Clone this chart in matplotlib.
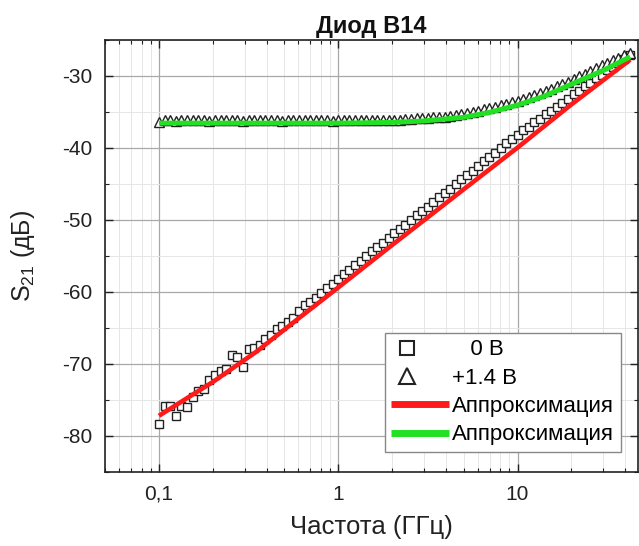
import matplotlib
matplotlib.use("Agg")
import matplotlib.pyplot as plt
from matplotlib.legend_handler import HandlerLine2D
from matplotlib.ticker import FixedLocator, FuncFormatter, LogLocator, MultipleLocator, NullFormatter

plt.rcParams['font.family'] = ['Liberation Sans', 'DejaVu Sans']
plt.rcParams['mathtext.default'] = 'regular'
plt.rcParams['axes.unicode_minus'] = False

# Measurement frequencies, GHz
freq = [
    0.1000, 0.1075, 0.1155, 0.1241, 0.1334, 0.1433, 0.1540, 0.1655,
    0.1778, 0.1911, 0.2054, 0.2207, 0.2371, 0.2548, 0.2738, 0.2943,
    0.3162, 0.3398, 0.3652, 0.3924, 0.4217, 0.4532, 0.4870, 0.5233,
    0.5623, 0.6043, 0.6494, 0.6978, 0.7499, 0.8058, 0.8660, 0.9306,
    1.000, 1.075, 1.155, 1.241, 1.334, 1.433, 1.540, 1.655,
    1.778, 1.911, 2.054, 2.207, 2.371, 2.548, 2.738, 2.943,
    3.162, 3.398, 3.652, 3.924, 4.217, 4.532, 4.870, 5.233,
    5.623, 6.043, 6.494, 6.978, 7.499, 8.058, 8.660, 9.306,
    10.00, 10.75, 11.55, 12.41, 13.34, 14.33, 15.40, 16.55,
    17.78, 19.11, 20.54, 22.07, 23.71, 25.48, 27.38, 29.43,
    31.62, 33.98, 36.52, 39.24, 42.17,
]

# S21 at 0 V bias, dB
s21_0v = [
    -78.4, -75.9, -75.8, -77.3, -75.9, -76.0, -74.6, -73.8,
    -73.5, -72.3, -71.6, -71.0, -70.7, -68.8, -69.1, -70.5,
    -68.0, -67.8, -67.4, -66.6, -66.0, -65.2, -64.8, -64.2,
    -63.6, -62.6, -61.9, -61.4, -60.8, -60.1, -59.5, -58.9,
    -58.2, -57.6, -57.0, -56.3, -55.7, -55.1, -54.4, -53.8,
    -53.2, -52.6, -51.9, -51.3, -50.7, -50.0, -49.4, -48.8,
    -48.2, -47.6, -46.9, -46.3, -45.7, -45.0, -44.4, -43.8,
    -43.2, -42.5, -41.9, -41.3, -40.7, -40.0, -39.4, -38.8,
    -38.2, -37.6, -37.1, -36.5, -36.0, -35.4, -34.9, -34.3,
    -33.8, -33.2, -32.6, -32.1, -31.5, -31.0, -30.4, -29.9,
    -29.3, -28.8, -28.2, -27.7, -27.1,
]

# S21 at +1.4 V bias, dB
s21_14v = [
    -36.4, -36.2, -36.2, -36.3, -36.2, -36.2, -36.1, -36.2,
    -36.2, -36.3, -36.2, -36.2, -36.1, -36.2, -36.2, -36.3,
    -36.2, -36.2, -36.2, -36.1, -36.2, -36.2, -36.3, -36.2,
    -36.2, -36.2, -36.1, -36.2, -36.2, -36.2, -36.2, -36.3,
    -36.2, -36.2, -36.2, -36.1, -36.2, -36.2, -36.2, -36.2,
    -36.1, -36.1, -36.1, -36.1, -36.0, -36.0, -35.9, -35.9,
    -35.9, -35.8, -35.8, -35.7, -35.6, -35.5, -35.4, -35.2,
    -35.1, -34.9, -34.7, -34.5, -34.3, -34.1, -33.9, -33.7,
    -33.5, -33.2, -33.0, -32.7, -32.4, -32.1, -31.8, -31.5,
    -31.2, -30.9, -30.5, -30.1, -29.8, -29.4, -29.0, -28.6,
    -28.3, -27.9, -27.5, -27.2, -26.9,
]

# Fitted curves
fit_0v_freq = [0.1, 0.2, 0.35, 0.6, 1.0, 2.0, 3.0, 5.0, 10.0, 20.0, 42.5]
fit_0v_db = [-77.2, -72.5, -68.3, -63.7, -59.4, -53.5, -50.1, -45.8, -40.0, -34.0, -27.8]

fit_14v_freq = [0.1, 1.0, 2.0, 3.0, 5.0, 7.0, 10.0, 14.0, 20.0, 30.0, 42.5]
fit_14v_db = [-36.6, -36.6, -36.5, -36.3, -35.8, -35.1, -34.1, -32.9, -31.2, -29.3, -27.4]

x_major = [0.1, 1, 10]
x_major_labels = ['0,1', '1', '10']
y_major = [-80, -70, -60, -50, -40, -30]


class LeftMarkerHandler(HandlerLine2D):
    """Legend handler that puts the single marker near the left of the handle box."""

    def create_artists(self, legend, orig_handle, xdescent, ydescent,
                       width, height, fontsize, trans):
        artists = super().create_artists(legend, orig_handle, xdescent, ydescent,
                                         width, height, fontsize, trans)
        x0 = -xdescent
        xm = x0 + 0.27 * width
        for a in artists:
            xd, yd = a.get_data()
            if len(xd) == 3:
                a.set_data([x0, xm, x0 + width], yd)
                a.set_markeredgewidth(1.5)
        return artists


fig = plt.figure(figsize=(6.39, 5.46), dpi=100)
ax = fig.add_axes([105 / 639, 74 / 546, 533 / 639, 432.5 / 546])

pts0, = ax.plot(freq, s21_0v, linestyle='none', marker='s', markersize=6.4,
                markerfacecolor='white', markeredgecolor='#222222', markeredgewidth=1.0,
                label='   0 В', zorder=3)
pts14, = ax.plot(freq, s21_14v, linestyle='none', marker='^', markersize=7.0,
                 markerfacecolor='white', markeredgecolor='#222222', markeredgewidth=1.0,
                 label='+1.4 В', zorder=3)
ax.plot(fit_0v_freq, fit_0v_db, color='#ff1a1a', linewidth=3.3,
        solid_capstyle='butt', label='Аппроксимация', zorder=4)
ax.plot(fit_14v_freq, fit_14v_db, color='#22e022', linewidth=3.6,
        solid_capstyle='butt', label='Аппроксимация', zorder=4)

ax.set_xscale('log')
ax.set_xlim(0.05, 47)
ax.set_ylim(-85, -25)

ax.xaxis.set_major_locator(FixedLocator(x_major))
ax.xaxis.set_major_formatter(FuncFormatter(
    lambda v, p: x_major_labels[x_major.index(min(x_major, key=lambda t: abs(t - v)))]))
ax.xaxis.set_minor_locator(LogLocator(base=10, subs=[2, 3, 4, 5, 6, 7, 8, 9]))
ax.xaxis.set_minor_formatter(NullFormatter())
ax.yaxis.set_major_locator(FixedLocator(y_major))
ax.yaxis.set_minor_locator(MultipleLocator(5))

ax.grid(which='major', color='#a8a8a8', linewidth=0.9, zorder=0)
ax.grid(which='minor', color='#e6e6e6', linewidth=0.7, zorder=0)
ax.set_axisbelow(True)

ax.tick_params(which='both', direction='in', top=True, right=True,
               labelsize=15, colors='#222222')
ax.tick_params(which='major', length=6, width=1.0, pad=9)
ax.tick_params(which='minor', length=3, width=0.8)
for s in ax.spines.values():
    s.set_color('#222222')
    s.set_linewidth(1.2)

ax.set_xlabel('Частота (ГГц)', fontsize=18.5, labelpad=8, color='#222222')
ax.set_ylabel('S$_{21}$ (дБ)', fontsize=18, labelpad=18, color='#222222')
ax.set_title('Диод B14', fontsize=17, fontweight='bold', pad=5, color='#111111')

marker_handler = LeftMarkerHandler()
leg = ax.legend(loc='lower right', bbox_to_anchor=(0.968, 0.046),
                fontsize=16, frameon=True, fancybox=False, framealpha=1,
                edgecolor='#888888', handlelength=2.6, handletextpad=0.15,
                borderpad=0.3, labelspacing=0.33, markerscale=1.6,
                borderaxespad=0,
                handler_map={pts0: marker_handler, pts14: marker_handler})
leg.get_frame().set_linewidth(1.0)
for h in leg.get_lines()[2:]:
    h.set_linewidth(5)

fig.savefig('out.png', dpi=100)
